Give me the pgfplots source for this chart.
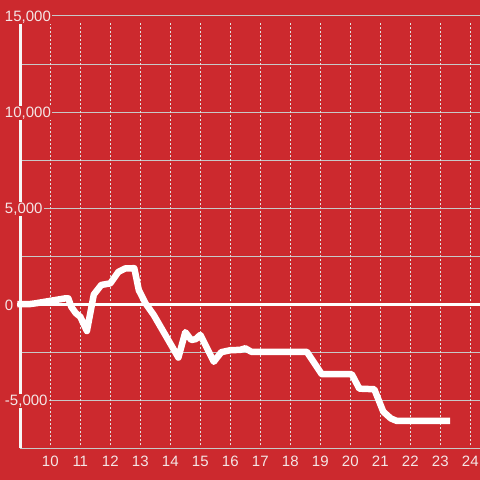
\documentclass[border=0pt]{standalone}
\usepackage{pgfplots}
\pgfplotsset{compat=1.18}
\usepackage{fontspec}
\setmainfont{Liberation Sans}
\definecolor{bgred}{RGB}{204,41,46}
\definecolor{gridc}{RGB}{200,200,200}
\definecolor{dotc}{RGB}{225,225,225}
\definecolor{labc}{RGB}{244,230,230}
\pgfplotsset{
 layers/mylayers/.define layer set={axis background,axis grid,axis ticks,axis lines,pre main,main,axis tick labels,axis descriptions,axis foreground}{
  grid style={/pgfplots/on layer=axis grid},
  tick style={/pgfplots/on layer=axis ticks},
  axis line style={/pgfplots/on layer=axis lines},
  label style={/pgfplots/on layer=axis descriptions},
  legend style={/pgfplots/on layer=axis descriptions},
  title style={/pgfplots/on layer=axis descriptions},
  colorbar style={/pgfplots/on layer=axis descriptions},
  ticklabel style={/pgfplots/on layer=axis tick labels},
  axis background@ style={/pgfplots/on layer=axis background},
  3d box foreground style={/pgfplots/on layer=axis foreground},
 },
}
\begin{document}
\begin{tikzpicture}
\begin{axis}[
 set layers=mylayers,
 at={(20.3bp,31.8bp)}, anchor=south west,
 scale only axis, width=459.7bp, height=432.2bp,
 xmin=9, xmax=24.323, ymin=-7500, ymax=15000,
 axis line style={draw=none},
 major tick length=0pt, minor tick length=0pt,
 xtick={10,...,24},
 ytick={-5000,0,5000,10000,15000},
 minor ytick={-7500,-2500,2500,7500,12500},
 ymajorgrids, yminorgrids,
 major grid style={gridc, line width=1bp, solid},
 minor grid style={gridc, line width=1bp, solid},
 scaled y ticks=false,
 /pgf/number format/assume math mode=true,
 /pgf/number format/1000 sep={,},
 ticklabel style={font=\fontsize{15bp}{17bp}\selectfont, text=labc},
 yticklabel style={anchor=west, xshift=-16.5bp, yshift=-1bp, fill=bgred, inner sep=1bp},
 xticklabel style={anchor=north, inner sep=0pt, yshift=-7.5bp},
 clip=false,
]
\begin{pgfonlayer}{axis background}
\fill[bgred] (axis cs:8.3,-9300) rectangle (axis cs:24.4,16000);
\end{pgfonlayer}
\pgfplotsinvokeforeach{10,...,24}{
 \draw[dotc, line width=1bp, dash pattern=on 2bp off 2bp] (axis cs:#1,-7350) -- (axis cs:#1,14620);
}
\draw[white!94!gray, line width=3bp] (axis cs:9.012,-7500) -- (axis cs:9.012,15000);
\draw[white, line width=3bp] (axis cs:8.9,0) -- (axis cs:24.323,0);
\addplot[white, line width=6.5bp, line join=round] coordinates {
(8.9,0) (9.3,0) (9.5,40) (10.0,170) (10.5,300) (10.6,300) (10.7,-140)
(10.85,-470) (11.0,-660) (11.22,-1400) (11.45,500) (11.7,1000) (12.0,1080)
(12.27,1680) (12.5,1860) (12.8,1870) (12.95,730) (13.17,50) (13.45,-570)
(14.27,-2780) (14.5,-1460) (14.7,-1870) (14.85,-1820) (15.0,-1600)
(15.45,-3000) (15.7,-2500) (16.0,-2400) (16.33,-2380) (16.5,-2300)
(16.7,-2480) (18.55,-2480) (19.05,-3650) (20.05,-3650) (20.3,-4400)
(20.8,-4430) (21.1,-5600) (21.35,-5950) (21.55,-6080) (23.33,-6080)
};
\end{axis}
\pgfresetboundingbox
\path[use as bounding box] (0,0) rectangle (480bp,480bp);
\end{tikzpicture}
\end{document}
